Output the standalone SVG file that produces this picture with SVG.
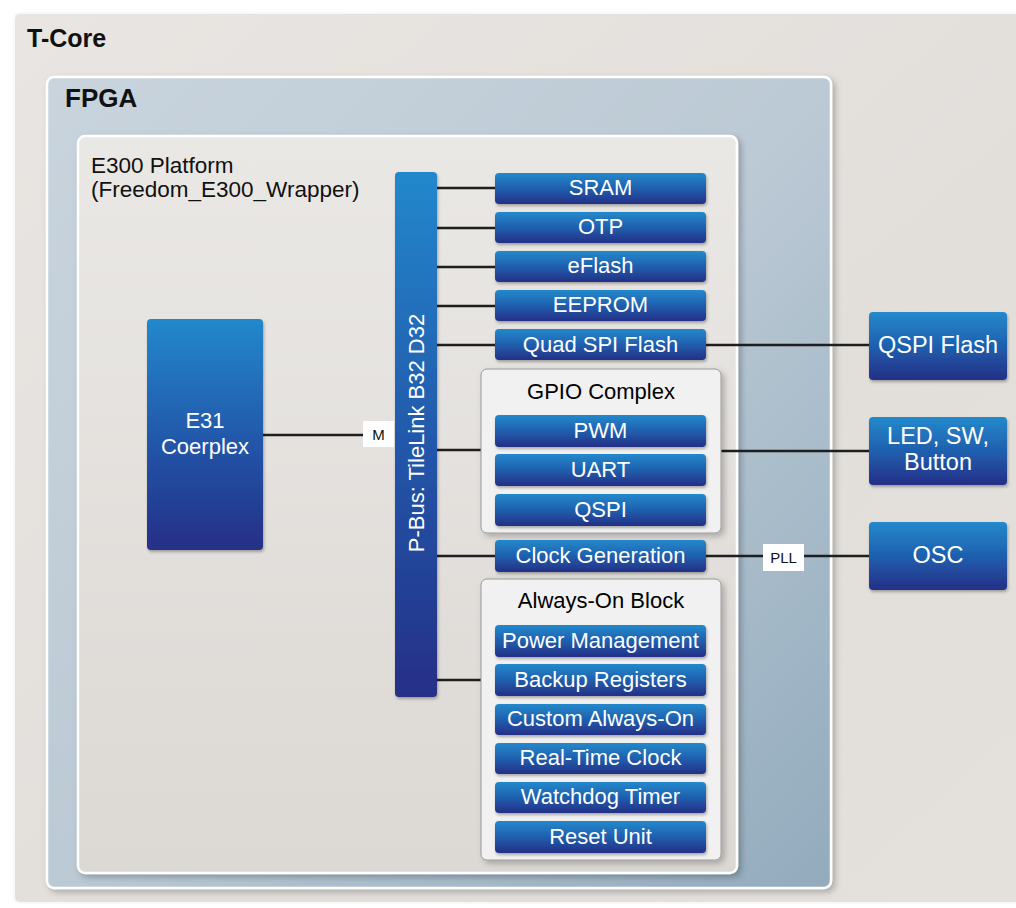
<svg xmlns="http://www.w3.org/2000/svg" width="1016" height="908" viewBox="0 0 1016 908">
<defs>
<linearGradient id="gBlue" x1="0" y1="0" x2="0" y2="1">
<stop offset="0" stop-color="#2289cc"/>
<stop offset="0.5" stop-color="#1f5fae"/>
<stop offset="1" stop-color="#252f86"/>
</linearGradient>
<linearGradient id="gTall" x1="0" y1="0" x2="0" y2="1">
<stop offset="0" stop-color="#2288cc"/>
<stop offset="0.55" stop-color="#2055a8"/>
<stop offset="1" stop-color="#262f86"/>
</linearGradient>
<linearGradient id="gCore" x1="0" y1="0" x2="1" y2="1">
<stop offset="0" stop-color="#e8e5e2"/>
<stop offset="0.6" stop-color="#e2dfdb"/>
<stop offset="1" stop-color="#e4e1dd"/>
</linearGradient>
<linearGradient id="gFpga" x1="0" y1="0" x2="1" y2="1">
<stop offset="0" stop-color="#c9d4dd"/>
<stop offset="0.5" stop-color="#bccad5"/>
<stop offset="1" stop-color="#92abbd"/>
</linearGradient>
<linearGradient id="gE300" x1="0" y1="0" x2="0" y2="1">
<stop offset="0" stop-color="#eae8e5"/>
<stop offset="1" stop-color="#dcd8d4"/>
</linearGradient>
<filter id="sh" x="-10%" y="-10%" width="125%" height="125%">
<feDropShadow dx="3" dy="3" stdDeviation="3" flood-color="#000" flood-opacity="0.25"/>
</filter>
<filter id="shs" x="-10%" y="-10%" width="125%" height="130%">
<feDropShadow dx="1" dy="2" stdDeviation="1.5" flood-color="#000" flood-opacity="0.3"/>
</filter>
</defs>
<style>
.mod{fill:url(#gBlue);filter:url(#shs)}
.mt{font-family:"Liberation Sans",Arial,sans-serif;font-size:22px;fill:#fff;text-anchor:middle}
.bt{font-family:"Liberation Sans",Arial,sans-serif;font-size:22px;fill:#000;text-anchor:middle}
.title{font-family:"Liberation Sans",Arial,sans-serif;font-weight:bold;fill:#111}
.lbl{font-family:"Liberation Sans",Arial,sans-serif;font-size:15px;fill:#111;text-anchor:middle}
.ln{stroke:#1e1e1e;stroke-width:2.5;fill:none}
.sub{fill:#f1f1f1;stroke:#9a9a9a;stroke-width:1;filter:url(#sh)}
.ext{font-size:23.5px}
</style>
<rect width="1016" height="908" fill="#ffffff"/>
<g id="t-core">
<rect x="14" y="13" width="1010" height="890" rx="6" fill="url(#gCore)" stroke="#f8f8f8" stroke-width="2"/>
<text class="title" x="27" y="47" font-size="25">T-Core</text>
</g>
<g id="fpga">
<rect x="47" y="77" width="784" height="811" rx="7" fill="url(#gFpga)" stroke="#ffffff" stroke-width="2.5" filter="url(#sh)"/>
<text class="title" x="65" y="107" font-size="26">FPGA</text>
</g>
<g id="e300">
<rect x="78" y="136" width="659" height="737" rx="7" fill="url(#gE300)" stroke="#ffffff" stroke-width="2.5" filter="url(#sh)"/>
<text x="91" y="173" font-family="Liberation Sans, Arial, sans-serif" font-size="22.5" fill="#111">E300 Platform</text>
<text x="91" y="197" font-family="Liberation Sans, Arial, sans-serif" font-size="22.5" fill="#111">(Freedom_E300_Wrapper)</text>
</g>
<g id="connectors">
<line class="ln" x1="263" y1="435" x2="363" y2="435"/>
<line class="ln" x1="437" y1="188" x2="495" y2="188"/>
<line class="ln" x1="437" y1="228" x2="495" y2="228"/>
<line class="ln" x1="437" y1="267" x2="495" y2="267"/>
<line class="ln" x1="437" y1="306" x2="495" y2="306"/>
<line class="ln" x1="437" y1="345" x2="495" y2="345"/>
<line class="ln" x1="706" y1="345" x2="869" y2="345"/>
<line class="ln" x1="437" y1="450" x2="481" y2="450"/>
<line class="ln" x1="721" y1="451" x2="869" y2="451"/>
<line class="ln" x1="437" y1="556" x2="495" y2="556"/>
<line class="ln" x1="706" y1="556" x2="869" y2="556"/>
<line class="ln" x1="437" y1="680" x2="481" y2="680"/>
<rect x="363" y="421" width="31" height="26" fill="#ffffff"/>
<text class="lbl" x="378.5" y="439.5">M</text>
<rect x="763" y="544" width="41" height="27" fill="#ffffff"/>
<text class="lbl" x="783.5" y="563">PLL</text>
</g>
<g id="e31">
<rect x="147" y="319" width="116" height="231" rx="4" fill="url(#gTall)" filter="url(#shs)"/>
<text class="mt" x="205" y="428" font-size="23">E31</text>
<text class="mt" x="205" y="454" font-size="23">Coerplex</text>
</g>
<g id="pbus">
<rect x="395" y="172" width="42" height="525" rx="4" fill="url(#gTall)" filter="url(#shs)"/>
<text class="mt" transform="translate(424,433) rotate(-90)" font-size="23">P-Bus: TileLink B32 D32</text>
</g>
<g id="sram"><rect class="mod" x="495" y="173" width="211" height="31" rx="4"/><text class="mt" x="600.5" y="195">SRAM</text></g>
<g id="otp"><rect class="mod" x="495" y="212" width="211" height="31" rx="4"/><text class="mt" x="600.5" y="234">OTP</text></g>
<g id="eflash"><rect class="mod" x="495" y="251" width="211" height="31" rx="4"/><text class="mt" x="600.5" y="273">eFlash</text></g>
<g id="eeprom"><rect class="mod" x="495" y="290" width="211" height="31" rx="4"/><text class="mt" x="600.5" y="312">EEPROM</text></g>
<g id="quad-spi-flash"><rect class="mod" x="495" y="329" width="211" height="31" rx="4"/><text class="mt" x="600.5" y="352">Quad SPI Flash</text></g>
<g id="gpio-complex">
<rect class="sub" x="481" y="369" width="240" height="164" rx="6"/>
<text class="bt" x="601" y="399">GPIO Complex</text>
</g>
<g id="pwm"><rect class="mod" x="495" y="415" width="211" height="32" rx="4"/><text class="mt" x="600.5" y="438">PWM</text></g>
<g id="uart"><rect class="mod" x="495" y="454" width="211" height="32" rx="4"/><text class="mt" x="600.5" y="477">UART</text></g>
<g id="qspi"><rect class="mod" x="495" y="494" width="211" height="32" rx="4"/><text class="mt" x="600.5" y="517">QSPI</text></g>
<g id="clock-generation"><rect class="mod" x="495" y="540" width="211" height="32" rx="4"/><text class="mt" x="600.5" y="563">Clock Generation</text></g>
<g id="always-on-block">
<rect class="sub" x="481" y="579" width="240" height="281" rx="6"/>
<text class="bt" x="601" y="608">Always-On Block</text>
</g>
<g id="power-management"><rect class="mod" x="495" y="625" width="211" height="32" rx="4"/><text class="mt" x="600.5" y="648">Power Management</text></g>
<g id="backup-registers"><rect class="mod" x="495" y="664" width="211" height="32" rx="4"/><text class="mt" x="600.5" y="687">Backup Registers</text></g>
<g id="custom-always-on"><rect class="mod" x="495" y="704" width="211" height="31" rx="4"/><text class="mt" x="600.5" y="726">Custom Always-On</text></g>
<g id="real-time-clock"><rect class="mod" x="495" y="743" width="211" height="31" rx="4"/><text class="mt" x="600.5" y="765">Real-Time Clock</text></g>
<g id="watchdog-timer"><rect class="mod" x="495" y="782" width="211" height="31" rx="4"/><text class="mt" x="600.5" y="804">Watchdog Timer</text></g>
<g id="reset-unit"><rect class="mod" x="495" y="821" width="211" height="32" rx="4"/><text class="mt" x="600.5" y="844">Reset Unit</text></g>
<g id="qspi-flash-ext"><rect class="mod" x="869" y="312" width="138" height="68" rx="4"/><text class="mt ext" x="938" y="353">QSPI Flash</text></g>
<g id="led-sw-button"><rect class="mod" x="869" y="417" width="138" height="68" rx="4"/><text class="mt ext" x="938" y="444">LED, SW,</text><text class="mt ext" x="938" y="470">Button</text></g>
<g id="osc"><rect class="mod" x="869" y="522" width="138" height="68" rx="4"/><text class="mt ext" x="938" y="563">OSC</text></g>
</svg>
